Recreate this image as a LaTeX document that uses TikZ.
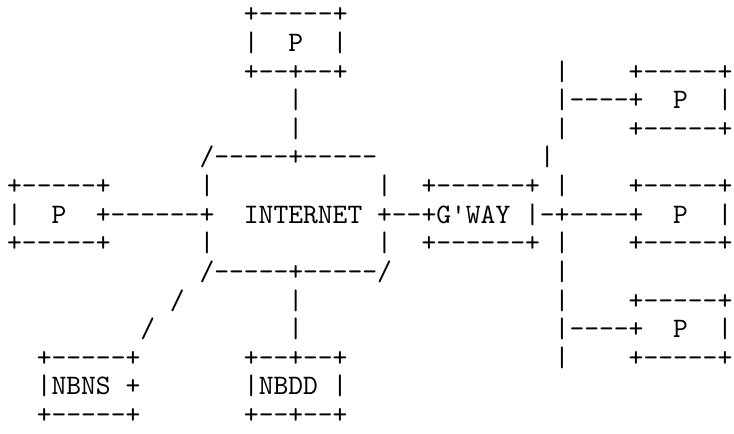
\documentclass[tikz,border=0pt]{standalone}
\usepackage{tikz}

\newcommand{\skipcols}[1]{\hspace*{#1\dimexpr5.25pt\relax}}

\begin{document}
\begin{tikzpicture}[x=5.25pt,y=-10.15pt,
    ascii/.style={anchor=base west,inner sep=0pt,xshift=-2.625pt,yshift=-2.8pt,
        font=\fontsize{10}{12}\selectfont\ttfamily}]
    \useasboundingbox (-0.946,-0.524) rectangle (48.65,14.615);
    % P on top, bus on the right
    \node[ascii] (r0) at (16,0) {+-----+};
    \node[ascii] (r1) at (16,1) {|~~P~~|};
    \node[ascii] (r2) at (16,2) {+--+--+\skipcols{14}|~~~~+-----+};
    \node[ascii] (r3) at (19,3) {|\skipcols{17}|----+~~P~~|};
    \node[ascii] (r4) at (19,4) {|\skipcols{17}|~~~~+-----+};
    % INTERNET and G'WAY
    \node[ascii] (r5) at (13,5) {/-----+-----\skipcols{11}|};
    \node[ascii] (r6) at (0,6) {+-----+\skipcols{6}|\skipcols{11}|~~+------+~|~~~~+-----+};
    \node[ascii] (r7) at (0,7) {|~~P~~+------+~~INTERNET~+--+G'WAY~|-+----+~~P~~|};
    \node[ascii] (r8) at (0,8) {+-----+\skipcols{6}|\skipcols{11}|~~+------+~|~~~~+-----+};
    \node[ascii] (r9) at (13,9) {/-----+-----/\skipcols{11}|};
    % NBNS, NBDD
    \node[ascii] (r10) at (11,10) {/\skipcols{7}|\skipcols{17}|~~~~+-----+};
    \node[ascii] (r11) at (9,11) {/\skipcols{9}|\skipcols{17}|----+~~P~~|};
    \node[ascii] (r12) at (2,12) {+-----+\skipcols{7}+--+--+\skipcols{14}|~~~~+-----+};
    \node[ascii] (r13) at (2,13) {|NBNS~+\skipcols{7}|NBDD~|};
    \node[ascii] (r14) at (2,14) {+-----+\skipcols{7}+--+--+};
\end{tikzpicture}
\end{document}
